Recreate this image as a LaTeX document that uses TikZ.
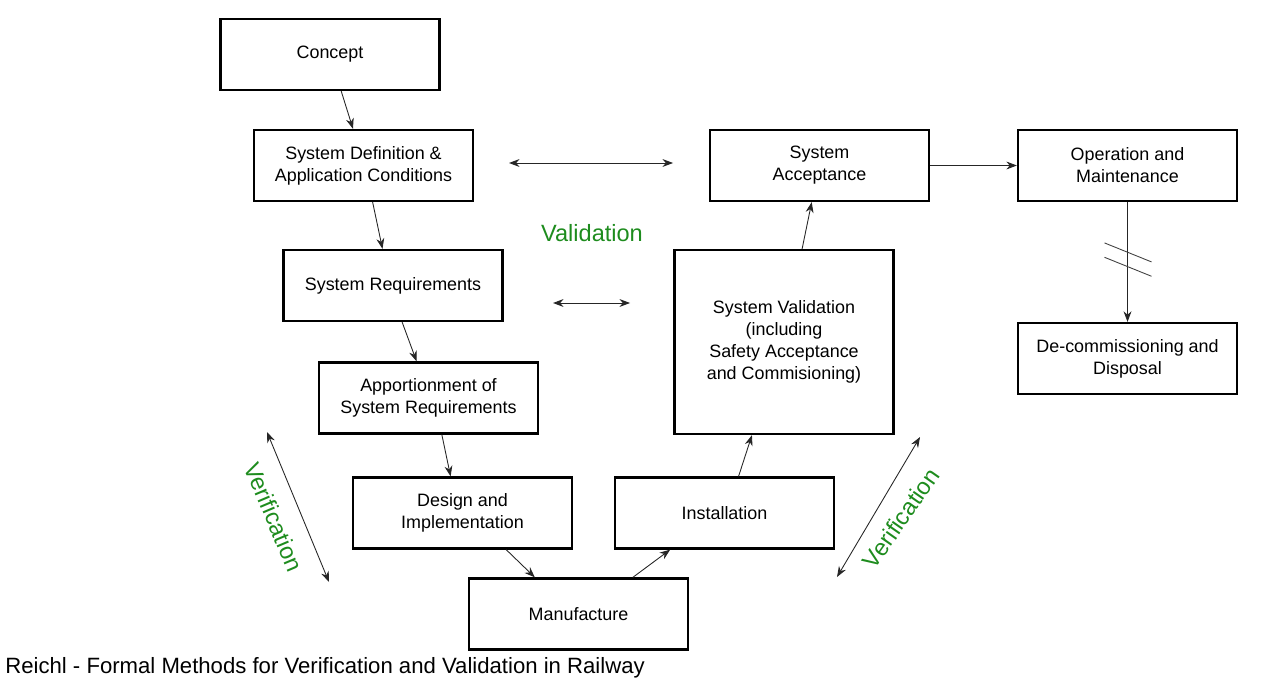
\documentclass[tikz,border=0pt]{standalone}
\usepackage{fontspec}
\setmainfont{Liberation Sans}
\usetikzlibrary{arrows.meta}
\definecolor{vvgreen}{RGB}{30,140,30}
\tikzset{
	phase/.style={draw, black, line width=1.3pt, minimum width=4.38cm, minimum height=1.42cm, align=center, inner sep=0pt, font=\fontsize{10.2}{12.6}\selectfont},
	flow/.style={->, black!85, line width=0.5pt},
	both/.style={<->, black!85, line width=0.5pt},
	vvlabel/.style={vvgreen, inner sep=0pt, font=\fontsize{13.4}{16}\selectfont}
}
\begin{document}
\begin{tikzpicture}[x=0.02cm, y=-0.02cm, >={Stealth[length=6pt, width=4.5pt]}]
			\useasboundingbox (0,0) rectangle (1280,689);
			
			\node[phase] (concept) at (330, 54.5) {Concept};
			\node[phase] (sysdef) at (363.5, 165.5) {System Definition \&\\Application Conditions};
			\node[phase] (sysreq) at (393, 285.5) {System Requirements};
			\node[phase] (apport) at (428.5, 398) {Apportionment of\\System Requirements};
			\node[phase] (design) at (462.5, 513) {Design and\\Implementation};
			\node[phase] (manuf) at (578.5, 614) {Manufacture};
			\node[phase] (install) at (724.5, 513) {Installation};
			\node[phase, minimum height=3.68cm] (sysval) at (784, 342) {System Validation\\(including\\Safety Acceptance\\and Commisioning)};
			\node[phase] (sysacc) at (819.5, 165.5) {System\\Acceptance};
			\node[phase] (opmaint) at (1127.5, 165.5) {Operation and\\Maintenance};
			\node[phase] (decom) at (1127.5, 358.5) {De-commissioning and\\Disposal};
			
			\draw [flow] (concept.-73) -- (sysdef.106);
			\draw [flow] (sysdef.-76) -- (sysreq.106);
			\draw [flow] (sysreq.-76) -- (apport.108);
			\draw [flow] (apport.-70) -- (design.108);
			\draw [flow] (design.-40) -- (manuf.140);
			\draw [flow] (manuf.34) -- (install.214);
			\draw [flow] (install.69) -- (sysval.-109);
			\draw [flow] (sysval.79) -- (sysacc.-102);
			\draw [flow] (sysacc.east) -- (opmaint.west);
			\draw [flow] (opmaint.south) -- coordinate[pos=0.42] (brkA) coordinate[pos=0.54] (brkB) (decom.north);
			\draw [black!75, line width=0.5pt] ([shift={(-23,-9.5)}]brkA) -- ([shift={(24,9.5)}]brkA);
			\draw [black!75, line width=0.5pt] ([shift={(-23,-9.5)}]brkB) -- ([shift={(24,9.5)}]brkB);
			
			\coordinate (valtopA) at (509, 163);
			\coordinate (valtopB) at (673, 163);
			\coordinate (vallowA) at (553, 303);
			\coordinate (vallowB) at (630, 303);
			\coordinate (verleftA) at (267, 432);
			\coordinate (verleftB) at (329, 582);
			\coordinate (verrightA) at (920, 437);
			\coordinate (verrightB) at (837, 577);
			\draw [both] (valtopA) -- (valtopB);
			\draw [both] (vallowA) -- (vallowB);
			\draw [both] (verleftA) -- (verleftB);
			\draw [both] (verrightA) -- (verrightB);
			
			\node[vvlabel] (validation) at (592, 233) {Validation};
			\node[vvlabel, rotate=-67] (verleft) at (274, 517) {Verification};
			\node[vvlabel, rotate=55] (verright) at (901, 518) {Verification};
			
			\node[anchor=west, inner sep=0pt, font=\fontsize{12.6}{15}\selectfont] (caption) at (5, 668) {Reichl - Formal Methods for Verification and Validation in Railway};
			
		\end{tikzpicture}
\end{document}
